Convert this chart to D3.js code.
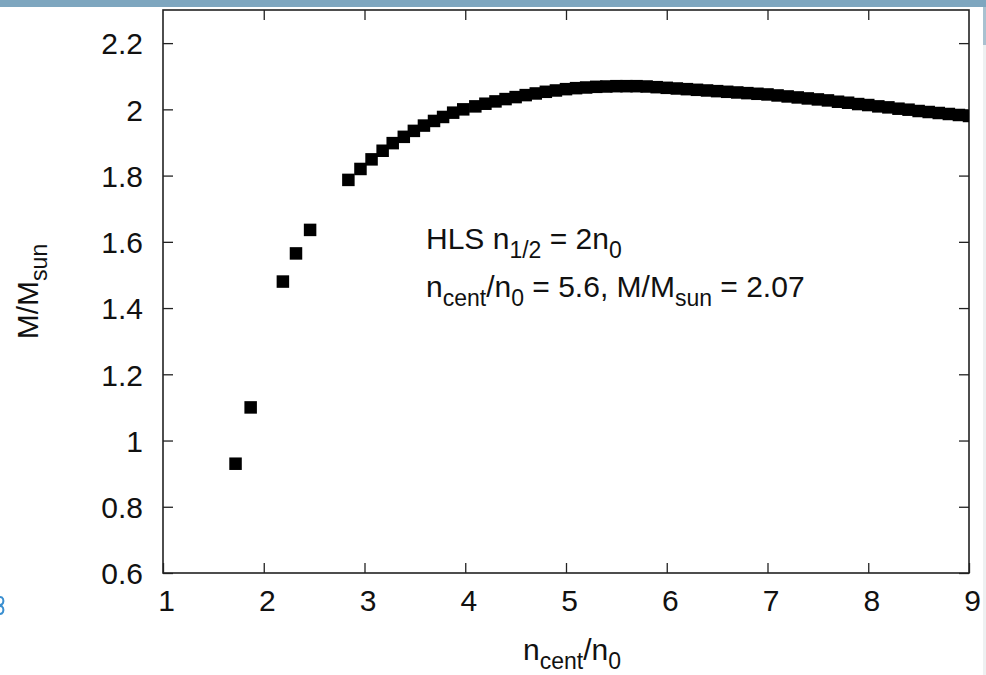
<!DOCTYPE html>
<html>
<head>
<meta charset="utf-8">
<script src="https://cdn.jsdelivr.net/npm/d3@7"></script>
<style>
  html, body { margin: 0; padding: 0; background: #fff; }
  svg { display: block; }
  text { font-family: "Liberation Sans", Arial, sans-serif; fill: #111; }
</style>
</head>
<body>
<svg id="chart" width="986" height="675"></svg>
<script>
// Central density (in units of n0) of each computed star
const densityRatio = [
  1.72, 1.87, 2.19, 2.32, 2.46,
  2.84, 2.96, 3.07, 3.18, 3.28, 3.39, 3.49, 3.59, 3.69, 3.78, 3.88, 3.98,
  4.1, 4.2, 4.3, 4.4, 4.5, 4.6, 4.7, 4.8, 4.9,
  5.0, 5.1, 5.2, 5.3, 5.4, 5.5, 5.6, 5.7, 5.8, 5.9,
  6.0, 6.1, 6.2, 6.3, 6.4, 6.5, 6.6, 6.7, 6.8, 6.9,
  7.0, 7.1, 7.2, 7.3, 7.4, 7.5, 7.6, 7.7, 7.8, 7.9,
  8.0, 8.1, 8.2, 8.3, 8.4, 8.5, 8.6, 8.7, 8.8, 8.9, 9.0
];
// Stellar mass in solar masses
const massRatio = [
  0.93, 1.10, 1.48, 1.565, 1.636,
  1.787, 1.820, 1.849, 1.875, 1.898, 1.917, 1.935, 1.951, 1.965, 1.977, 1.990, 2.000,
  2.009, 2.017, 2.024, 2.031, 2.037, 2.043, 2.048, 2.053, 2.057,
  2.061, 2.064, 2.066, 2.068, 2.069, 2.070, 2.070, 2.070, 2.069, 2.067,
  2.065, 2.063, 2.061, 2.059, 2.057, 2.055, 2.053, 2.051, 2.049, 2.047,
  2.045, 2.042, 2.039, 2.036, 2.033, 2.030, 2.027, 2.023, 2.020, 2.016,
  2.013, 2.009, 2.006, 2.002, 1.999, 1.995, 1.992, 1.989, 1.986, 1.983, 1.980
];
const xTicks = [1, 2, 3, 4, 5, 6, 7, 8, 9];
const yTicks = [0.6, 0.8, 1.0, 1.2, 1.4, 1.6, 1.8, 2.0, 2.2];

const svg = d3.select("#chart");
const W = 986, H = 675;
const plot = { left: 163, right: 969, top: 10, bottom: 573 };

// slide framing: top band, right edge strip, and a sliver of neighbouring slide content
svg.append("rect").attr("x", 0).attr("y", 0).attr("width", W).attr("height", H).attr("fill", "#fff");
svg.append("rect").attr("x", 0).attr("y", 0).attr("width", W).attr("height", 7).attr("fill", "#7ea6bf");
svg.append("rect").attr("x", 983).attr("y", 7).attr("width", 3).attr("height", H - 7).attr("fill", "#eef0f1");
svg.append("rect").attr("x", 983).attr("y", 7).attr("width", 3).attr("height", 38).attr("fill", "#a9c1d0");
svg.append("path")
  .attr("d", "M0,597 C3,597 4,600 3,603 C2,605 0,605 0,605 M0,606 C3,606 4,609 3,612 C2,614 0,614 0,614")
  .attr("fill", "none").attr("stroke", "#3a8fd0").attr("stroke-width", 2);

const x = d3.scaleLinear().domain([1, 9]).range([plot.left, plot.right]);
const y = d3.scaleLinear().domain([0.6, 2.3]).range([plot.bottom, plot.top]);

const fmt = d => String(+d.toFixed(1));
const tickLen = 10;
const fontSize = 30;
const subSize = 23;
const subShift = 9;

// axes: ticks point inward, mirrored on top and right
const gB = svg.append("g").attr("transform", `translate(0,${plot.bottom})`)
  .call(d3.axisBottom(x).tickValues(xTicks).tickSize(-tickLen).tickPadding(15).tickFormat(fmt));
const gT = svg.append("g").attr("transform", `translate(0,${plot.top})`)
  .call(d3.axisTop(x).tickValues(xTicks.slice(1, -1)).tickSize(-tickLen).tickFormat(""));
const gL = svg.append("g").attr("transform", `translate(${plot.left},0)`)
  .call(d3.axisLeft(y).tickValues(yTicks).tickSize(-tickLen).tickPadding(20).tickFormat(fmt));
const gR = svg.append("g").attr("transform", `translate(${plot.right},0)`)
  .call(d3.axisRight(y).tickValues(yTicks).tickSize(-tickLen).tickFormat(""));

[gB, gT, gL, gR].forEach(g => {
  g.select(".domain").remove();
  g.selectAll(".tick line").attr("stroke", "#222").attr("stroke-width", 1.3);
  g.selectAll(".tick text").attr("font-size", fontSize)
    .attr("font-family", "'Liberation Sans', Arial, sans-serif").style("fill", "#111");
});
gB.selectAll(".tick text").attr("dx", 3).attr("dy", "0.75em");
gL.selectAll(".tick text").attr("dy", "0.36em");

// plot frame
svg.append("rect")
  .attr("x", plot.left).attr("y", plot.top)
  .attr("width", plot.right - plot.left).attr("height", plot.bottom - plot.top)
  .attr("fill", "none").attr("stroke", "#222").attr("stroke-width", 1.6);

// data points: filled squares, clipped to the frame
svg.append("clipPath").attr("id", "clip").append("rect")
  .attr("x", plot.left).attr("y", plot.top)
  .attr("width", plot.right - plot.left).attr("height", plot.bottom - plot.top);

const pts = densityRatio.map((d, i) => ({ n: d, m: massRatio[i] }));
const s = 12.5;
svg.append("g").attr("clip-path", "url(#clip)")
  .selectAll("rect").data(pts).join("rect")
  .attr("x", d => x(d.n) - s / 2)
  .attr("y", d => y(d.m) - s / 2)
  .attr("width", s).attr("height", s)
  .attr("fill", "#000");

// text with subscripts: parts are [string, isSubscript]
function richText(sel, parts) {
  let down = false;
  parts.forEach(([str, sub]) => {
    const t = sel.append("tspan").text(str);
    if (sub && !down) { t.attr("font-size", subSize).attr("dy", subShift); down = true; }
    else if (!sub && down) { t.attr("dy", -subShift); down = false; }
  });
}

// annotation
const ann = svg.append("g").attr("font-size", fontSize);
richText(ann.append("text").attr("x", 426).attr("y", 249),
  [["HLS n", 0], ["1/2", 1], [" = 2n", 0], ["0", 1]]);
richText(ann.append("text").attr("x", 426).attr("y", 297),
  [["n", 0], ["cent", 1], ["/n", 0], ["0", 1], [" = 5.6, M/M", 0], ["sun", 1], [" = 2.07", 0]]);

// axis titles
richText(svg.append("text").attr("x", (plot.left + plot.right) / 2 + 6).attr("y", 660)
  .attr("text-anchor", "middle").attr("font-size", fontSize),
  [["n", 0], ["cent", 1], ["/n", 0], ["0", 1]]);

richText(svg.append("text")
  .attr("transform", `translate(38,${(plot.top + plot.bottom) / 2}) rotate(-90)`)
  .attr("text-anchor", "middle").attr("font-size", fontSize),
  [["M/M", 0], ["sun", 1]]);
</script>
</body>
</html>
